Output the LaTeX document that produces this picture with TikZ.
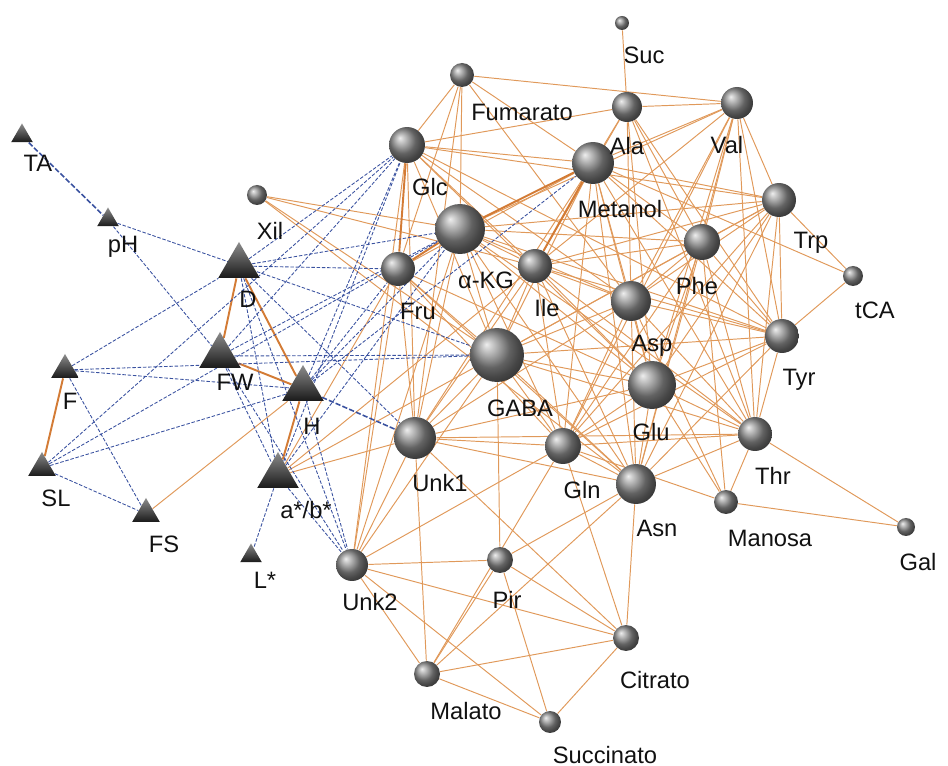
\documentclass[tikz,border=0pt]{standalone}
\usepackage{fontspec}
\setmainfont{Liberation Sans}
\usepackage{tikz}
\usetikzlibrary{shapes.geometric,backgrounds}
\definecolor{ink}{HTML}{111111}
\definecolor{amber}{HTML}{E0995A}
\definecolor{rust}{HTML}{D37B35}
\definecolor{navy}{HTML}{3A52A0}
\tikzset{
  sphere/.style={circle, shading=ball, ball color=black!45, inner sep=0pt,
    minimum size=#1*0.04cm},
  tri/.style={regular polygon, regular polygon sides=3, inner sep=0pt,
    top color=black!45, bottom color=black!90, draw=none,
    minimum size=#1*0.02cm},
  lbl/.style={font=\fontsize{13.5}{15}\selectfont, text=ink, inner sep=0pt},
  link/.style={draw=amber, line width=0.55pt},
  tlink/.style={draw=rust, line width=1.1pt},
  dlink/.style={draw=navy, line width=0.5pt, dash pattern=on 2pt off 1pt},
  tdlink/.style={draw=navy, line width=0.9pt, dash pattern=on 3pt off 1.2pt}
}
\begin{document}
\begin{tikzpicture}[x=0.02cm, y=-0.02cm]
  \useasboundingbox (0,0) rectangle (948,766);
  % sensory attributes
  \node[tri=25] (ta) at (22,136) {};
  \node[tri=25] (ph) at (108,220) {};
  \node[tri=48] (d) at (239,266) {};
  \node[tri=48] (fw) at (220,356) {};
  \node[tri=32] (f) at (65,370) {};
  \node[tri=48] (h) at (303,389) {};
  \node[tri=32] (sl) at (42,468) {};
  \node[tri=48] (ab) at (278,476) {};
  \node[tri=32] (fs) at (146,514) {};
  \node[tri=25] (ls) at (251,556) {};
  % metabolites
  \node[sphere=7] (suc) at (622,23) {};
  \node[sphere=12] (fum) at (462,75) {};
  \node[sphere=15] (ala) at (627,107) {};
  \node[sphere=16] (val) at (737,103) {};
  \node[sphere=18] (glc) at (407,145) {};
  \node[sphere=21] (met) at (593,163) {};
  \node[sphere=10] (xil) at (257,195) {};
  \node[sphere=17] (trp) at (779,200) {};
  \node[sphere=25] (akg) at (460,229) {};
  \node[sphere=18] (phe) at (702,242) {};
  \node[sphere=10] (tca) at (853,276) {};
  \node[sphere=17] (ile) at (535,266) {};
  \node[sphere=17] (fru) at (398,269) {};
  \node[sphere=20] (asp) at (631,301) {};
  \node[sphere=17] (tyr) at (782,336) {};
  \node[sphere=27] (gaba) at (497,355) {};
  \node[sphere=24] (glu) at (652,385) {};
  \node[sphere=21] (unka) at (415,438) {};
  \node[sphere=18] (gln) at (563,446) {};
  \node[sphere=17] (thr) at (755,434) {};
  \node[sphere=20] (asn) at (636,484) {};
  \node[sphere=12] (man) at (726,502) {};
  \node[sphere=9] (gal) at (906,527) {};
  \node[sphere=16] (unkb) at (352,565) {};
  \node[sphere=13] (pir) at (500,560) {};
  \node[sphere=13] (cit) at (626,638) {};
  \node[sphere=13] (mal) at (427,674) {};
  \node[sphere=11] (sci) at (550,722) {};
  % labels
  \node[lbl] (ta-l) at (38,163) {TA};
  \node[lbl] (ph-l) at (123,247) {pH};
  \node[lbl] (d-l) at (248,299) {D};
  \node[lbl] (fw-l) at (235,382) {FW};
  \node[lbl] (f-l) at (70,401) {F};
  \node[lbl] (h-l) at (312,426) {H};
  \node[lbl] (sl-l) at (56,498) {SL};
  \node[lbl] (ab-l) at (306,510) {a*/b*};
  \node[lbl] (fs-l) at (164,544) {FS};
  \node[lbl] (ls-l) at (265,580) {L*};
  \node[lbl] (suc-l) at (644,55) {Suc};
  \node[lbl] (fum-l) at (522,112) {Fumarato};
  \node[lbl] (ala-l) at (627,146) {Ala};
  \node[lbl] (val-l) at (727,145) {Val};
  \node[lbl] (glc-l) at (430,187) {Glc};
  \node[lbl] (met-l) at (620,209) {Metanol};
  \node[lbl] (xil-l) at (270,231) {Xil};
  \node[lbl] (trp-l) at (811,243) {Trp};
  \node[lbl] (akg-l) at (486,280) {α-KG};
  \node[lbl] (phe-l) at (697,286) {Phe};
  \node[lbl] (tca-l) at (875,310) {tCA};
  \node[lbl] (ile-l) at (547,308) {Ile};
  \node[lbl] (fru-l) at (418,311) {Fru};
  \node[lbl] (asp-l) at (652,346) {Asp};
  \node[lbl] (tyr-l) at (799,380) {Tyr};
  \node[lbl] (gaba-l) at (520,408) {GABA};
  \node[lbl] (glu-l) at (651,432) {Glu};
  \node[lbl] (unka-l) at (440,483) {Unk1};
  \node[lbl] (gln-l) at (582,490) {Gln};
  \node[lbl] (thr-l) at (773,476) {Thr};
  \node[lbl] (asn-l) at (657,528) {Asn};
  \node[lbl] (man-l) at (770,538) {Manosa};
  \node[lbl] (gal-l) at (918,562) {Gal};
  \node[lbl] (unkb-l) at (370,602) {Unk2};
  \node[lbl] (pir-l) at (507,600) {Pir};
  \node[lbl] (cit-l) at (655,680) {Citrato};
  \node[lbl] (mal-l) at (466,711) {Malato};
  \node[lbl] (sci-l) at (605,755) {Succinato};
  \begin{scope}[on background layer]
    % correlations
    \foreach \a/\b in {fs/h, ab/unka, ab/gaba, ab/ile, ab/fru,
      xil/ile, xil/gaba, xil/asn, xil/akg, suc/ala,
      fum/val, fum/glc, fum/akg, fum/fru, fum/asp, fum/unka, fum/met,
      glc/met, glc/unka, glc/gaba, glc/asp, glc/trp, glc/tyr, glc/ile,
      glc/glu, glc/unkb, glc/ala,
      ala/val, ala/met, ala/asp, ala/phe, ala/ile, ala/glu, ala/thr, ala/tyr,
      val/met, val/trp, val/phe, val/asp, val/ile, val/glu, val/thr,
      val/tyr, val/gln, val/asn, val/akg,
      met/gaba, met/asp, met/glu, met/gln, met/asn, met/phe,
      met/trp, met/tyr, met/thr, met/fru, met/unka, met/tca,
      trp/tca, trp/phe, trp/ile, trp/asp, trp/glu, trp/thr, trp/tyr,
      trp/asn, trp/gaba, trp/gln, trp/akg,
      phe/ile, phe/asp, phe/glu, phe/gln, phe/asn, phe/thr, phe/tyr,
      phe/gaba, phe/akg, phe/man, tca/tyr,
      akg/gaba, akg/ile, akg/unka, akg/asp, akg/glu, akg/gln, akg/asn,
      akg/tyr, akg/thr, akg/unkb,
      ile/asp, ile/glu, ile/gaba, ile/gln, ile/asn, ile/thr, ile/tyr, ile/unka,
      fru/gaba, fru/unka, fru/gln, fru/asn, fru/glu, fru/unkb,
      asp/glu, asp/gln, asp/asn, asp/thr, asp/tyr, asp/gaba, asp/unka, asp/man,
      tyr/glu, tyr/thr, tyr/asn, tyr/gln, tyr/gaba,
      gaba/glu, gaba/gln, gaba/asn, gaba/unka, gaba/thr, gaba/unkb, gaba/pir,
      glu/gln, glu/asn, glu/thr, glu/unka, glu/man,
      thr/gln, thr/asn, thr/unka, thr/gal, thr/man, man/gal, man/gln,
      unka/gln, unka/asn, unka/unkb, unka/mal, unka/cit,
      gln/asn, gln/unkb, gln/mal, gln/cit, asn/cit, asn/pir, asn/mal,
      unkb/pir, unkb/cit, unkb/mal, unkb/sci,
      pir/mal, pir/sci, pir/cit, mal/cit, mal/sci, cit/sci}
      \draw[link] (\a) -- (\b);
    \foreach \a/\b in {d/fw, d/h, fw/h, f/sl, h/ab, met/akg, met/ile,
      glc/fru, akg/fru}
      \draw[tlink] (\a) -- (\b);
    % negative correlations
    \foreach \a/\b in {ph/gaba, ph/fw, f/d, f/gaba, f/h, f/fs,
      sl/glc, sl/akg, sl/h, sl/fs,
      d/glc, d/akg, d/fru, d/unka, d/ab, d/unkb,
      fw/glc, fw/akg, fw/gaba, fw/ab, fw/unkb,
      h/glc, h/akg, h/fru, h/unkb, h/met,
      ab/ls, ab/glc, ab/unkb, ab/akg}
      \draw[dlink] (\a) -- (\b);
    \draw[tdlink] (ta) -- (ph);
    \draw[tdlink] (h) -- (unka);
  \end{scope}
\end{tikzpicture}
\end{document}
